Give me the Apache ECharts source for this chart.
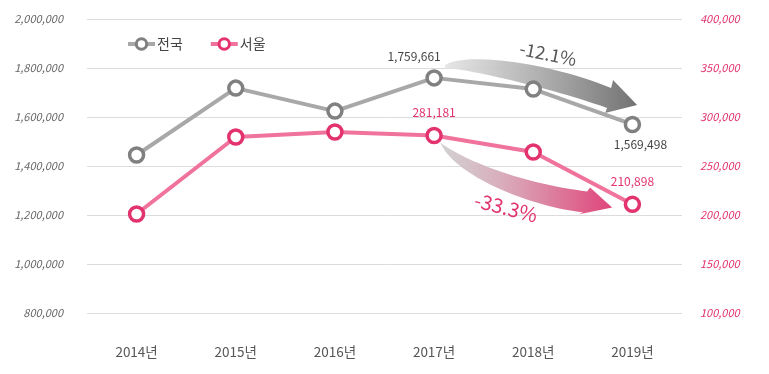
<!DOCTYPE html>
<html><head><meta charset="utf-8">
<script src="https://cdn.jsdelivr.net/npm/echarts@6/dist/echarts.min.js"></script>
<style>html,body{margin:0;padding:0;background:#fff}#c{width:769px;height:374px}</style>
</head><body><div id="c"></div>
<script>
const categories = ['2014년','2015년','2016년','2017년','2018년','2019년'];
const nationwide = [1445000, 1718000, 1624000, 1759661, 1714000, 1569498];
const seoul = [201000, 279600, 284700, 281181, 264300, 210898];
const leftTicks = [800000, 2000000, 200000];
const rightTicks = [100000, 400000, 50000];
const FONT = '"Noto Sans CJK KR", sans-serif';
const GRAY = '#a8a8a8', GRAY_D = '#808080', PINK = '#f0739c', PINK_D = '#e2336f';

const fmt = v => v.toLocaleString('en-US');
const labelIdx = {nat:{3:'topLeft',5:'bottom'}, seo:{3:'top',5:'top'}};

function mkData(arr, key, color){
  return arr.map((v,i)=>{
    const p = labelIdx[key][i];
    if(!p) return v;
    let lab = {show:true, color:color, fontSize:12, fontFamily:FONT, formatter:fmt(v)};
    if(p==='topLeft'){lab.position='top'; lab.offset=[-20,-2];}
    else if(p==='bottom'){lab.position='bottom'; lab.offset=[8,0];}
    else {lab.position='top'; lab.distance=8;}
    return {value:v, label:lab};
  });
}

const chart = echarts.init(document.getElementById('c'));
chart.setOption({
  animation:false,
  grid:{left:87, right:87, top:19, bottom:61},
  legend:{left:121, top:32, itemWidth:27, itemHeight:13, itemGap:26,
    textStyle:{fontFamily:FONT, fontSize:14, color:'#444', padding:[0,0,0,-3]},
    data:[
      {name:'전국', itemStyle:{color:'#fff', borderColor:GRAY_D, borderWidth:3}, lineStyle:{color:GRAY,width:4}},
      {name:'서울', itemStyle:{color:'#fff', borderColor:PINK_D, borderWidth:3}, lineStyle:{color:PINK,width:4}}
    ]},
  xAxis:{type:'category', data:categories, axisLine:{show:false}, axisTick:{show:false},
    axisLabel:{margin:32, color:'#555', fontFamily:FONT, fontSize:13.5}},
  yAxis:[
    {type:'value', min:leftTicks[0], max:leftTicks[1], interval:leftTicks[2], position:'left',
      axisLine:{show:false}, axisTick:{show:false},
      axisLabel:{margin:24, color:'#666', fontFamily:FONT, fontSize:11, fontStyle:'italic', formatter:fmt},
      splitLine:{lineStyle:{color:'#dcdcdc', width:1}}},
    {type:'value', min:rightTicks[0], max:rightTicks[1], interval:rightTicks[2], position:'right',
      axisLine:{show:false}, axisTick:{show:false},
      axisLabel:{margin:18, color:PINK_D, fontFamily:FONT, fontSize:11, fontStyle:'italic', formatter:fmt},
      splitLine:{show:false}}
  ],
  series:[
    {name:'전국', type:'line', yAxisIndex:0, data:mkData(nationwide,'nat','#444'),
      symbol:'circle', symbolSize:14, showAllSymbol:true,
      lineStyle:{color:GRAY, width:4}, itemStyle:{color:'#fff', borderColor:GRAY_D, borderWidth:3.5}, z:3},
    {name:'서울', type:'line', yAxisIndex:1, data:mkData(seoul,'seo',PINK_D),
      symbol:'circle', symbolSize:14, showAllSymbol:true,
      lineStyle:{color:PINK, width:4}, itemStyle:{color:'#fff', borderColor:PINK_D, borderWidth:3.5}, z:3}
  ]
});

function cubic(p0,p1,p2,p3,n){
  const out=[];
  for(let i=0;i<=n;i++){const t=i/n,u=1-t;
    out.push([u*u*u*p0[0]+3*u*u*t*p1[0]+3*u*t*t*p2[0]+t*t*t*p3[0],
              u*u*u*p0[1]+3*u*u*t*p1[1]+3*u*t*t*p2[1]+t*t*t*p3[1]]);}
  return out;
}
function arrowPts(a, rel){
  const P = q => [a[0]+q[0], a[1]+q[1]];
  const up = cubic(P(rel.s), P(rel.u1), P(rel.u2), P(rel.nu), 30);
  const lo = cubic(P(rel.nl), P(rel.l1), P(rel.l2), P(rel.s2), 30);
  return up.concat([P(rel.ht), P(rel.tip), P(rel.hb)], lo);
}
const g17 = chart.convertToPixel({xAxisIndex:0,yAxisIndex:0},[3,nationwide[3]]);
const p17 = chart.convertToPixel({xAxisIndex:0,yAxisIndex:1},[3,seoul[3]]);
const grayArrow = arrowPts(g17, {s:[11,-13], u1:[31,-25], u2:[106,-18], nu:[177,10],
  ht:[179,2], tip:[203,27], hb:[171,35], nl:[173,30], l1:[106,7], l2:[36,-8], s2:[11,-10]});
const pinkArrow = arrowPts(p17, {s:[6,7], u1:[36,29], u2:[96,49], nu:[153,56],
  ht:[156,52], tip:[178,72], hb:[144,79], nl:[149,77], l1:[86,69], l2:[26,39], s2:[10,14]});

chart.setOption({graphic:[
  {type:'polygon', shape:{points:grayArrow}, z:1, style:{fill:new echarts.graphic.LinearGradient(0,0,1,0,[
    {offset:0,color:'rgba(228,228,228,0.9)'},{offset:1,color:'#727272'}])}},
  {type:'polygon', shape:{points:pinkArrow}, z:1, style:{fill:new echarts.graphic.LinearGradient(0,0,1,0,[
    {offset:0,color:'rgba(205,205,205,0.9)'},{offset:0.35,color:'rgba(215,170,185,0.95)'},{offset:1,color:'#e0447a'}])}},
  {type:'text', x:g17[0]+114, y:g17[1]-24, rotation:-0.2, z:5,
    style:{text:'-12.1%', fill:'#555', font:'18px '+FONT, textAlign:'center', textVerticalAlign:'middle'}},
  {type:'text', x:p17[0]+72, y:p17[1]+72, rotation:-0.25, z:5,
    style:{text:'-33.3%', fill:PINK_D, font:'20px '+FONT, textAlign:'center', textVerticalAlign:'middle'}}
]});
</script></body></html>
